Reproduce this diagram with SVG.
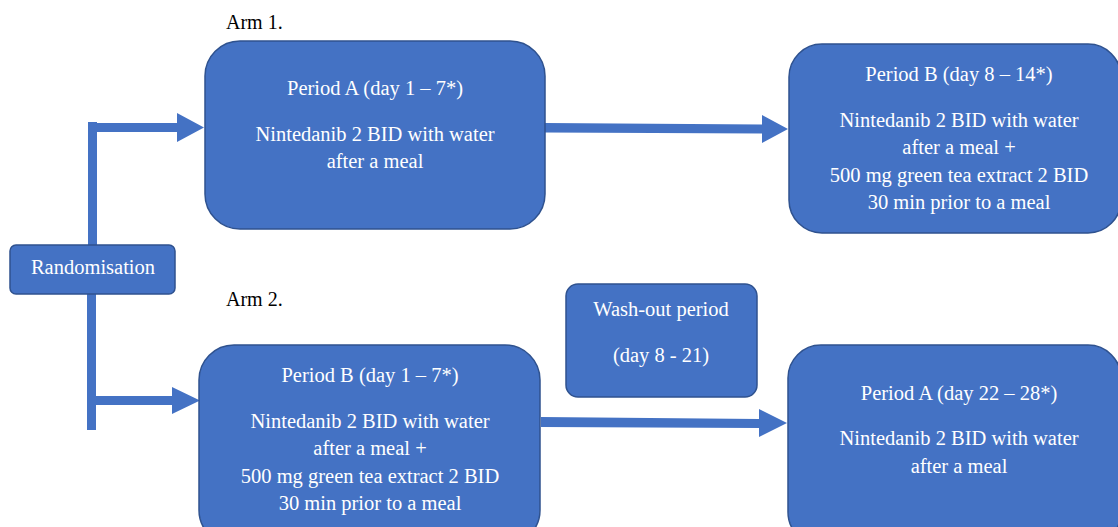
<svg xmlns="http://www.w3.org/2000/svg" width="1118" height="527" viewBox="0 0 1118 527">
<style>
.box{fill:#4472C4;stroke:#2F528F;stroke-width:1.5}
.t{font-family:"Liberation Serif","Times New Roman",serif;font-size:20.5px;fill:#FFFFFF;text-anchor:middle}
.lbl{font-family:"Liberation Serif","Times New Roman",serif;font-size:20px;fill:#000000}
.arr{fill:#4472C4;stroke:none}
</style>
<rect width="1118" height="527" fill="#FFFFFF"/>
<text class="lbl" x="226" y="29">Arm 1.</text>
<text class="lbl" x="226" y="306">Arm 2.</text>
<g id="connectors">
<polygon class="arr" points="88,122 97,122 97,123 177,123 177,113 204,127.5 177,142 177,132 97,132 97,245 88,245"/>
<polygon class="arr" points="87,294 96,294 96,396 172,396 172,387 200,400.5 172,414 172,405 96,405 96,430 87,430"/>
<polygon class="arr" points="545,123 762,124.5 762,115 788,129 762,143 762,133.5 545,132.5"/>
<polygon class="arr" points="541,417 759,419 759,409 787,423 759,437 759,428 541,427"/>
</g>
<g id="randomisation">
<rect class="box" x="10" y="245" width="165" height="49" rx="6"/>
<text class="t" x="93" y="274">Randomisation</text>
</g>
<g id="arm1-periodA">
<rect class="box" x="205" y="41" width="340" height="188" rx="35"/>
<text class="t" x="375" y="95">Period A (day 1 – 7*)</text>
<text class="t" x="375" y="141">Nintedanib 2 BID with water</text>
<text class="t" x="375" y="168">after a meal</text>
</g>
<g id="arm1-periodB">
<rect class="box" x="789" y="44" width="332" height="189" rx="33"/>
<text class="t" x="959" y="81">Period B (day 8 – 14*)</text>
<text class="t" x="959" y="127">Nintedanib 2 BID with water</text>
<text class="t" x="959" y="154">after a meal +</text>
<text class="t" x="959" y="182">500 mg green tea extract 2 BID</text>
<text class="t" x="959" y="209">30 min prior to a meal</text>
</g>
<g id="washout">
<rect class="box" x="566" y="284" width="191" height="113" rx="12"/>
<text class="t" x="661" y="316">Wash-out period</text>
<text class="t" x="661" y="362">(day 8 - 21)</text>
</g>
<g id="arm2-periodB">
<rect class="box" x="199" y="345" width="341" height="200" rx="35"/>
<text class="t" x="370" y="382">Period B (day 1 – 7*)</text>
<text class="t" x="370" y="428">Nintedanib 2 BID with water</text>
<text class="t" x="370" y="455">after a meal +</text>
<text class="t" x="370" y="483">500 mg green tea extract 2 BID</text>
<text class="t" x="370" y="510">30 min prior to a meal</text>
</g>
<g id="arm2-periodA">
<rect class="box" x="788" y="345" width="333" height="200" rx="33"/>
<text class="t" x="959" y="400">Period A (day 22 – 28*)</text>
<text class="t" x="959" y="445">Nintedanib 2 BID with water</text>
<text class="t" x="959" y="473">after a meal</text>
</g>
</svg>
